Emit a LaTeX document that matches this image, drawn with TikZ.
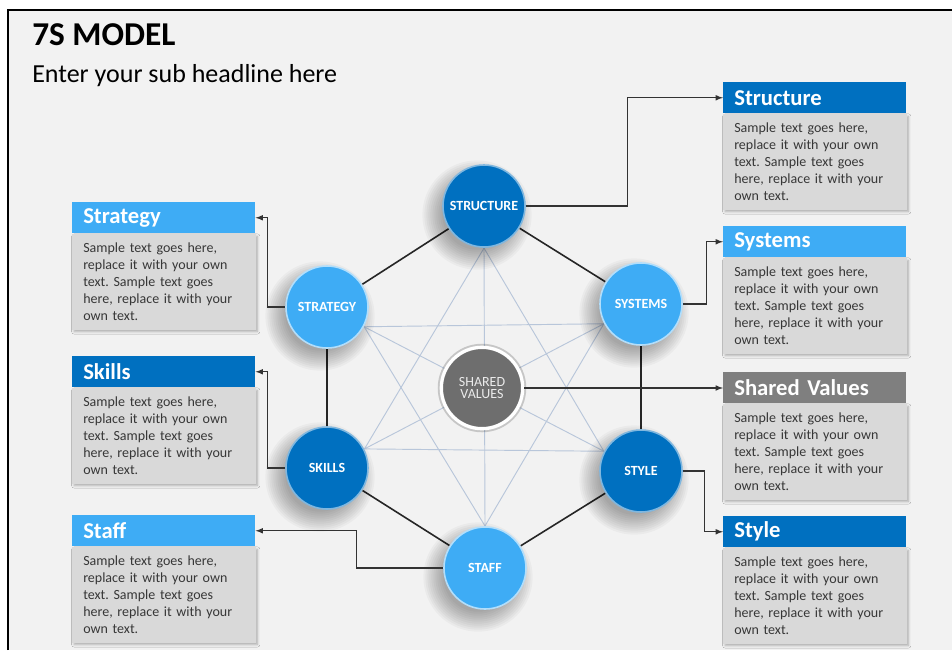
\documentclass[tikz,border=0pt]{standalone}
\usepackage{fontspec}
\setmainfont{Carlito}
\usetikzlibrary{shadows.blur}

\definecolor{deepblue}{RGB}{0,112,192}
\definecolor{skyblue}{RGB}{62,172,245}
\definecolor{headgrey}{RGB}{127,127,127}
\definecolor{bodygrey}{RGB}{217,217,217}
\definecolor{slidebg}{RGB}{242,242,242}
\definecolor{starline}{RGB}{184,198,218}
\definecolor{bodytext}{RGB}{55,55,55}
\definecolor{svgrey}{RGB}{110,110,110}

\newcommand{\sampletxt}{Sample text goes here,\\replace it with your own\\text. Sample text goes\\here, replace it with your\\own text.}
\frenchspacing

\begin{document}
\begin{tikzpicture}[x=0.75pt, y=-0.75pt,
	spot/.style={circle, minimum size=62.7pt, inner sep=0pt},
	ball/.style={circle, minimum size=61.5pt, inner sep=0pt, text=white, line width=1.2pt,
		font=\fontsize{10.5}{12}\selectfont\bfseries},
	darkball/.style={ball, fill=deepblue, draw=deepblue!50!white},
	lightball/.style={ball, fill=skyblue, draw=skyblue!40!white},
	head/.style={anchor=north west, minimum width=137.25pt, minimum height=23.25pt, text width=120.75pt,
		inner xsep=8.25pt, inner ysep=0pt, align=left, text=white, font=\fontsize{17}{19}\selectfont\bfseries},
	body/.style={anchor=north west, fill=bodygrey, draw=black!15, minimum width=137.25pt, minimum height=71.25pt,
		text width=120.75pt, inner xsep=8.25pt, align=left, text=bodytext, font=\fontsize{10.5}{12.75}\selectfont,
		blur shadow={shadow xshift=1.5pt, shadow yshift=-2pt, shadow blur radius=2pt, shadow opacity=30}},
	conn/.style={draw=black!80, line width=0.9pt, -latex},
	rim/.style={black!85, line width=1.2pt},
	star/.style={starline, line width=0.7pt}]
	\useasboundingbox (0,0) rectangle (952,650);
	\fill[slidebg] (8,10) rectangle (952,650);
	\draw[line width=1.5pt] (8,650) -- (8,10) -- (952,10);

	\node[anchor=base west, inner sep=0pt, font=\fontsize{25}{28}\selectfont\bfseries] (title) at (32,45) {7S MODEL};
	\node[anchor=base west, inner sep=0pt, font=\fontsize{19.5}{22}\selectfont] (subtitle) at (32,82) {Enter your sub headline here};

	\node[spot] (structure) at (484,206) {};
	\node[spot] (systems) at (641,304) {};
	\node[spot] (style) at (641,471) {};
	\node[spot] (staff) at (485,568) {};
	\node[spot] (skills) at (327,468) {};
	\node[spot] (strategy) at (327,307) {};
	\node[spot] (shared) at (482,388) {};

	\foreach \a/\b in {structure.-90/style.152, structure.-90/skills.27, structure.-90/staff.90,
		systems.208/staff.90, systems.208/skills.27, systems.208/strategy.-28,
		style.152/skills.27, style.152/strategy.-28, staff.90/strategy.-28}
		\draw[star] (\a) -- (\b);
	\draw[rim] (structure) -- (systems) -- (style) -- (staff) -- (skills) -- (strategy) -- (structure);

	% soft shadows under the balls
	\foreach \n in {structure,systems,style,staff,skills,strategy}
		\foreach \r in {41,39.5,...,26}
			\fill[black, opacity=0.032] ([shift={(-7,9)}]\n) circle[radius=\r pt];
	\fill[black, opacity=0.18] (shared) circle[radius=33.2pt];

	\node[darkball] (structureball) at (structure) {STRUCTURE};
	\node[lightball] (systemsball) at (systems) {SYSTEMS};
	\node[darkball] (styleball) at (style) {STYLE};
	\node[lightball] (staffball) at (staff) {STAFF};
	\node[darkball] (skillsball) at (skills) {SKILLS};
	\node[lightball] (strategyball) at (strategy) {STRATEGY};
	\node[circle, minimum size=61pt, inner sep=0pt, fill=svgrey, draw=white, line width=2.5pt, align=center,
		text=white!92!black, font=\fontsize{10.5}{9.5}\selectfont] (sharedball) at (shared) {SHARED\\VALUES};

	\node[head, fill=skyblue] (strategyhd) at (72,202) {Strategy};
	\node[body] (strategybd) at (strategyhd.south west) {\sampletxt};
	\node[head, fill=deepblue] (skillshd) at (72,356) {Skills};
	\node[body] (skillsbd) at (skillshd.south west) {\sampletxt};
	\node[head, fill=skyblue] (staffhd) at (72,515) {Staff};
	\node[body] (staffbd) at (staffhd.south west) {\sampletxt};

	\node[head, fill=deepblue] (structurehd) at (723,82) {Structure};
	\node[body] (structurebd) at (structurehd.south west) {\sampletxt};
	\node[head, fill=skyblue] (systemshd) at (723,226) {Systems};
	\node[body] (systemsbd) at (systemshd.south west) {\sampletxt};
	\node[head, fill=headgrey] (sharedhd) at (723,372) {Shared Values};
	\node[body] (sharedbd) at (sharedhd.south west) {\sampletxt};
	\node[head, fill=deepblue] (stylehd) at (723,516) {Style};
	\node[body] (stylebd) at (stylehd.south west) {\sampletxt};

	\draw[conn] (structureball.east) -- ++(102,0) |- (structurehd.west);
	\draw[conn] (systemsball.east) -- ++(24,0) |- (systemshd.west);
	\draw[conn] (sharedball.east) -- (sharedball.east -| sharedhd.west);
	\draw[conn] (styleball.east) -- ++(22,0) |- (stylehd.west);
	\draw[conn] (staffball.west) -- ++(-87,0) |- (staffhd.east);
	\draw[conn] (skillsball.west) -- ++(-18,0) |- (skillshd.east);
	\draw[conn] (strategyball.west) -- ++(-18,0) |- (strategyhd.east);
\end{tikzpicture}
\end{document}
